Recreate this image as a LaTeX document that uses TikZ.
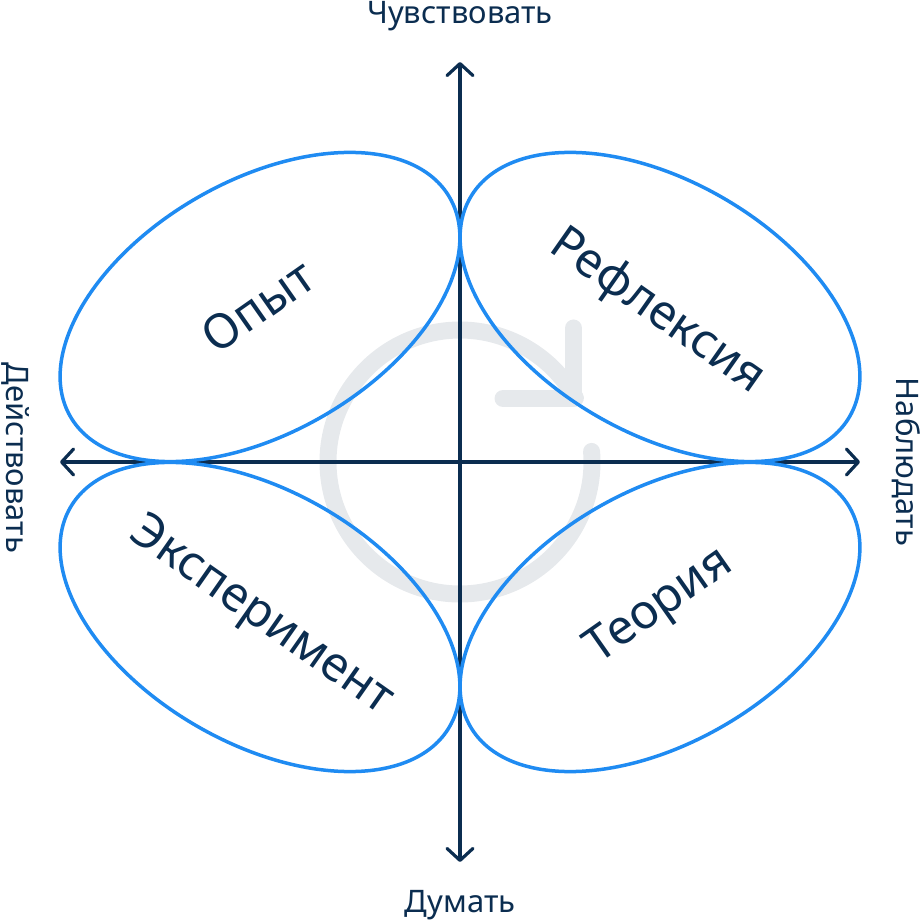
\documentclass[tikz,border=0pt]{standalone}
\usepackage{fontspec}
\setmainfont{Noto Sans}
\usetikzlibrary{arrows.meta}
\definecolor{navy}{HTML}{0B2D50}
\definecolor{lobeblue}{HTML}{1F8BF2}
\definecolor{ringgray}{HTML}{E6E9EC}
\tikzset{
  axis/.style={navy, line width=3.2pt,
    {Straight Barb[length=12pt,width=26pt,round]}-{Straight Barb[length=12pt,width=26pt,round]}},
  lobe/.style={lobeblue, line width=3.5pt},
  axislabel/.style={navy, font=\fontsize{31}{37}\selectfont, anchor=base, inner sep=0pt},
  lobelabel/.style={navy, font=\fontsize{48}{56}\selectfont, inner sep=0pt},
}

\begin{document}
\begin{tikzpicture}[x=1pt, y=1pt]
  \useasboundingbox (-460,-458) rectangle (460,462);
  % faint cycle mark behind everything
  \draw[ringgray, line width=17pt, line cap=round]
    (4.6:132) arc[start angle=4.6, end angle=-331, radius=132pt];
  \draw[ringgray, line width=17pt, line cap=round, line join=round]
    (43,63.5) -- (113.5,63.5) -- (113.5,134);
  % axes
  \coordinate (top) at (0,400);
  \coordinate (bottom) at (0,-400);
  \coordinate (left) at (-400,0);
  \coordinate (right) at (400,0);
  \draw[axis] (bottom) -- (top);
  \draw[axis] (left) -- (right);
  % four lobes, each touching both axes
  \foreach \cx/\cy/\ang in {-200/155/30, 200/155/-30, -200/-155/-30, 200/-155/30}
    \draw[lobe, rotate around={\ang:(\cx,\cy)}] (\cx,\cy) ellipse [x radius=219pt, y radius=126pt];
  \node[lobelabel, rotate=35]  (opyt)   at (-202,156)  {Опыт};
  \node[lobelabel, rotate=-35] (reflex) at (197,150)   {Рефлексия};
  \node[lobelabel, rotate=-35] (exper)  at (-199,-155) {Эксперимент};
  \node[lobelabel, rotate=35]  (theory) at (200,-145)  {Теория};
  % axis ends
  \node[axislabel] (feel)  at (0,438)  {Чувствовать};
  \node[axislabel] (think) at (0,-450) {Думать};
  \node[axislabel, rotate=-90] (act)   at (-453,4) {Действовать};
  \node[axislabel, rotate=-90] (watch) at (436,0)  {Наблюдать};
\end{tikzpicture}
\end{document}
